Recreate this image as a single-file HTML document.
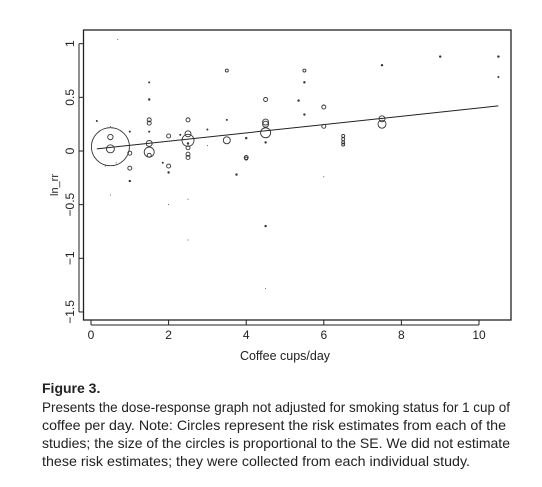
<!DOCTYPE html>
<html><head><meta charset="utf-8"><style>
html,body{margin:0;padding:0;background:#fff;}
svg{display:block;font-family:"Liberation Sans",sans-serif;}
</style></head><body>
<svg id="chart" width="542" height="487" viewBox="0 0 542 487" xmlns="http://www.w3.org/2000/svg">
<rect x="83.5" y="30" width="427.5" height="290" fill="none" stroke="#222" stroke-width="1.3"/>
<g id="xaxis"></g>
<g id="yaxis"></g>
<g id="marks"></g>
<text x="285" y="360" font-size="12.5" text-anchor="middle" fill="#222">Coffee cups/day</text>
<text transform="translate(58,185) rotate(-90)" font-size="11" text-anchor="middle" fill="#222">ln_rr</text>
<g fill="#222" font-size="14">
<text x="42" y="393" font-weight="bold" font-size="14">Figure 3.</text>
<text x="42" y="412" textLength="468" lengthAdjust="spacingAndGlyphs">Presents the dose-response graph not adjusted for smoking status for 1 cup of</text>
<text x="42" y="430" textLength="464" lengthAdjust="spacingAndGlyphs">coffee per day. Note: Circles represent the risk estimates from each of the</text>
<text x="42" y="448" textLength="468" lengthAdjust="spacingAndGlyphs">studies; the size of the circles is proportional to the SE. We did not estimate</text>
<text x="42" y="466" textLength="428" lengthAdjust="spacingAndGlyphs">these risk estimates; they were collected from each individual study.</text>
</g>
</svg>
<script>
const xTicks = [0, 2, 4, 6, 8, 10];
const yTicks = [1, 0.5, 0, -0.5, -1, -1.5];
const yTickLabels = ["1", "0.5", "0", "\u22120.5", "\u22121", "\u22121.5"];
const pointX = [0.15,0.69,0.5,0.5,0.5,0.5,0.37,0.65,0.5,1,1,1,1,1.5,1.5,1.5,1.5,1.5,1.5,1.5,1.5,1.85,2,2,2,2,2.3,2.5,2.5,2.5,2.5,2.5,2.5,2.5,2.5,2.5,3,3,3.5,3.5,3.5,3.75,4,4,4,4.5,4.5,4.5,4.5,4.5,4.5,4.5,5.35,5.5,5.5,5.5,6,6,6,6.5,6.5,6.5,6.5,7.5,7.5,7.5,9,10.5,10.5];
const pointY = [0.28,1.04,0.23,0.13,0.02,0.04,-0.14,-0.11,-0.41,0.18,-0.02,-0.16,-0.28,0.64,0.48,0.29,0.26,0.18,0.07,-0.01,-0.04,-0.11,0.14,-0.14,-0.2,-0.5,0.15,0.29,0.16,0.1,0.07,0.03,-0.03,-0.06,-0.45,-0.83,0.2,0.05,0.75,0.29,0.1,-0.22,0.12,-0.06,-0.07,0.48,0.27,0.25,0.17,0.08,-0.7,-1.28,0.47,0.75,0.64,0.34,0.41,0.23,-0.24,0.14,0.11,0.08,0.06,0.8,0.3,0.25,0.88,0.88,0.69];
const pointSE = [1,0.5,0.5,2.7,4,19,0.5,0.5,0.5,1,2,2,1.2,1,1.2,2,2,1,3,5,2,1,2,2,1.2,0.5,1,2,3,6,1.2,2,2,2,0.5,0.5,1,0.5,1.5,1,3.5,1.2,1.2,2,1.5,2,3,3,5,1.2,1.2,0.5,1.2,1.5,1.2,1.2,2,2,0.5,1.5,1.5,1.5,1.5,1.2,3,4,1.2,1.2,1];
const fitX = [0.15, 10.5];
const fitY = [0.02, 0.42];

const NS = "http://www.w3.org/2000/svg";
const sx = v => 91 + v * 38.8;
const sy = v => 151 - v * 107.3;
function mk(tag, attrs, parent){ const e=document.createElementNS(NS,tag); for(const k in attrs) e.setAttribute(k,attrs[k]); parent.appendChild(e); return e; }
const xa = document.getElementById('xaxis'), ya = document.getElementById('yaxis'), mg = document.getElementById('marks');
mk('line',{x1:sx(0),x2:sx(10),y1:325,y2:325,stroke:'#222','stroke-width':1},xa);
xTicks.forEach(t=>{
  const l=mk('line',{x1:sx(t),x2:sx(t),y1:320,y2:325,stroke:'#222'},xa);
  
  
  const tx=mk('text',{x:sx(t),y:339,'font-size':12,'text-anchor':'middle',fill:'#222'},xa);
  tx.textContent=String(t);
  
  
});
mk('line',{x1:79,x2:79,y1:sy(1),y2:sy(-1.5),stroke:'#222'},ya);
yTicks.forEach((t,i)=>{
  const l=mk('line',{x1:79,x2:83.5,y1:sy(t),y2:sy(t),stroke:'#222'},ya);
  
  
  const tx=mk('text',{transform:`translate(74,${sy(t)}) rotate(-90)`,'font-size':12,'text-anchor':'middle',fill:'#222'},ya);
  tx.textContent=yTickLabels[i];
  
  
});
const fl=mk('line',{x1:sx(fitX[0]),y1:sy(fitY[0]),x2:sx(fitX[1]),y2:sy(fitY[1]),stroke:'#222','stroke-width':1},mg);


pointX.forEach((x,i)=>{
  const r=pointSE[i];
  const filled = r<=1.2;
  const c=mk('circle',{cx:sx(x),cy:sy(pointY[i]),r:r,fill:filled?'#333':'none',stroke:'#333','stroke-width':filled?0:0.9},mg);
  
  
});
</script>
</body></html>
